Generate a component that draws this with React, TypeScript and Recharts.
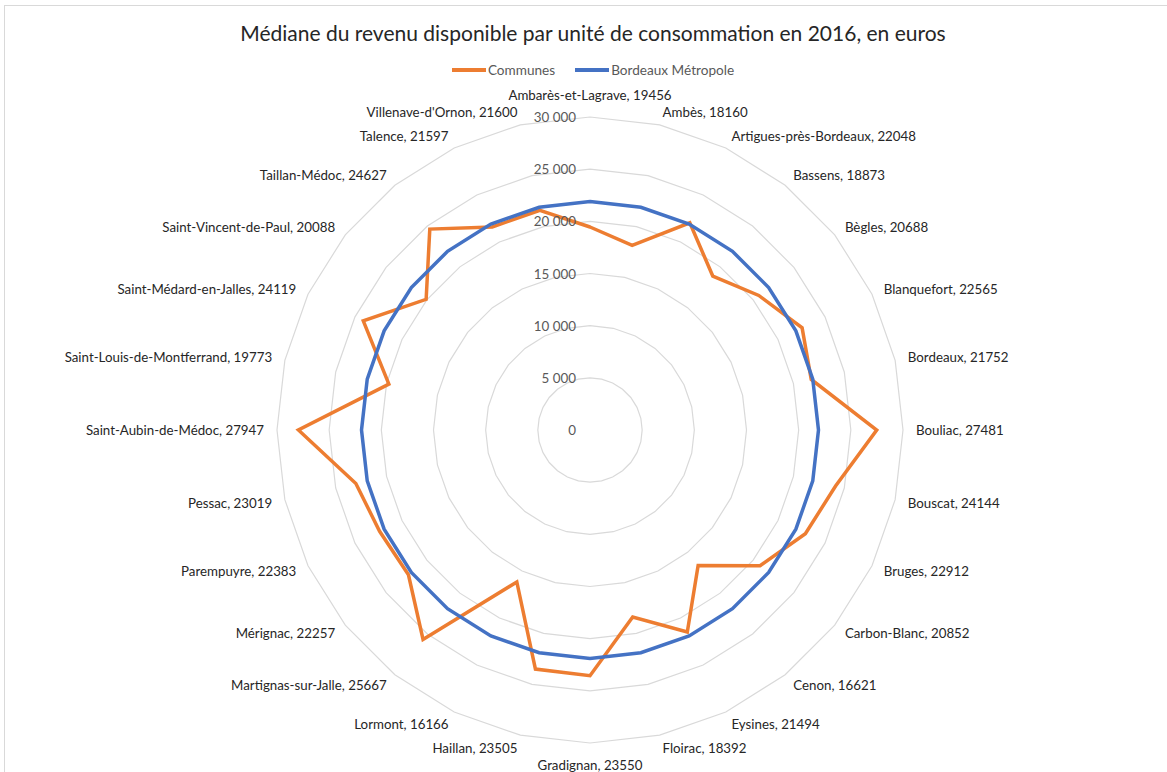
import React from 'react';
import { RadarChart, Radar, PolarGrid, PolarAngleAxis, PolarRadiusAxis, Legend } from 'recharts';

const communes = [
  'Ambarès-et-Lagrave', 'Ambès', 'Artigues-près-Bordeaux', 'Bassens', 'Bègles', 'Blanquefort', 'Bordeaux',
  'Bouliac', 'Bouscat', 'Bruges', 'Carbon-Blanc', 'Cenon', 'Eysines', 'Floirac', 'Gradignan', 'Haillan',
  'Lormont', 'Martignas-sur-Jalle', 'Mérignac', 'Parempuyre', 'Pessac', 'Saint-Aubin-de-Médoc',
  'Saint-Louis-de-Montferrand', 'Saint-Médard-en-Jalles', 'Saint-Vincent-de-Paul', 'Taillan-Médoc',
  'Talence', "Villenave-d'Ornon",
];

const communeValues = [
  19456, 18160, 22048, 18873, 20688, 22565, 21752, 27481, 24144, 22912, 20852, 16621, 21494, 18392,
  23550, 23505, 16166, 25667, 22257, 22383, 23019, 27947, 19773, 24119, 20088, 24627, 21597, 21600,
];

const metropoleValues = [
  21900, 21900, 21900, 21900, 21900, 21900, 21900, 21900, 21900, 21900, 21900, 21900, 21900, 21900,
  21900, 21900, 21900, 21900, 21900, 21900, 21900, 21900, 21900, 21900, 21900, 21900, 21900, 21900,
];

const seriesNames = ['Communes', 'Bordeaux Métropole'];

const radiusTicks = [0, 5000, 10000, 15000, 20000, 25000, 30000];

const CX = 590;
const CY = 430;
const R = 313;
const FONT = 'Lato, "Open Sans", sans-serif';

const data = communes.map((name, i) => ({
  name,
  communes: communeValues[i],
  metropole: metropoleValues[i],
}));

const fmt = (v: number) => String(v).replace(/\B(?=(\d{3})+(?!\d))/g, '\u00a0');

function AngleTick(props: any) {
  const { payload, index } = props;
  const angle = (payload.coordinate * Math.PI) / 180;
  const cos = Math.cos(angle);
  const sin = Math.sin(angle);
  let r = R + 13;
  const anchor = cos > 0.1 ? 'start' : cos < -0.1 ? 'end' : 'middle';
  if (anchor === 'middle') r = R + 22;
  const x = CX + r * cos;
  const y = CY - r * sin;
  return (
    <text x={x} y={y} textAnchor={anchor} dominantBaseline="central" fill="#262626" fontSize={13.3} fontFamily={FONT}>
      {`${payload.value}, ${communeValues[index]}`}
    </text>
  );
}

function RadiusTick(props: any) {
  const { x, y, payload } = props;
  return (
    <text x={x - 14} y={y} textAnchor="end" dominantBaseline="central" fill="#595959" fontSize={13.4} fontFamily={FONT}>
      {fmt(payload.value)}
    </text>
  );
}

function LegendContent(props: any) {
  const items = [...(props.payload || [])].sort(
    (a: any, b: any) => seriesNames.indexOf(a.value) - seriesNames.indexOf(b.value),
  );
  return (
    <div style={{ display: 'flex', justifyContent: 'center', gap: 20, fontFamily: FONT, fontSize: 13.6, color: '#595959' }}>
      {items.map((p: any) => (
        <div key={p.value} style={{ display: 'flex', alignItems: 'center' }}>
          <span style={{ display: 'inline-block', width: 34, height: 4, background: p.color, marginRight: 2 }} />
          <span>{p.value}</span>
        </div>
      ))}
    </div>
  );
}

export default function App() {
  return (
    <div style={{ position: 'absolute', left: 0, top: 0, width: 1167, height: 772, background: '#fff', overflow: 'hidden' }}>
      <div style={{ position: 'absolute', left: 4, top: 5, width: 1200, height: 800, border: '1px solid #D9D9D9' }} />
      <div
        style={{
          position: 'absolute', left: 0, top: 20, width: 1186, textAlign: 'center',
          fontFamily: FONT, fontSize: 21, color: '#262626', lineHeight: '26px',
        }}
      >
        Médiane du revenu disponible par unité de consommation en 2016, en euros
      </div>
      <div style={{ position: 'absolute', left: 0, top: 0 }}>
        <RadarChart width={1167} height={772} data={data} cx={CX} cy={CY} outerRadius={R}>
          <PolarGrid gridType="polygon" radialLines={false} stroke="#D9D9D9" strokeWidth={1.2} />
          <PolarAngleAxis dataKey="name" tick={<AngleTick />} axisLine={false} tickLine={false} />
          <PolarRadiusAxis
            angle={90}
            domain={[0, 30000]}
            ticks={radiusTicks}
            tickCount={7}
            axisLine={false}
            tickLine={false}
            tick={<RadiusTick />}
          />
          <Radar
            name="Communes"
            dataKey="communes"
            stroke="#ED7D31"
            strokeWidth={3.5}
            fill="none"
            fillOpacity={0}
            dot={false}
            isAnimationActive={false}
          />
          <Radar
            name="Bordeaux Métropole"
            dataKey="metropole"
            stroke="#4472C4"
            strokeWidth={3.5}
            fill="none"
            fillOpacity={0}
            dot={false}
            isAnimationActive={false}
          />
          <Legend
            verticalAlign="top"
            content={<LegendContent />}
            wrapperStyle={{ position: 'absolute', top: 62, left: 0, width: 1186 }}
          />
        </RadarChart>
      </div>
    </div>
  );
}
